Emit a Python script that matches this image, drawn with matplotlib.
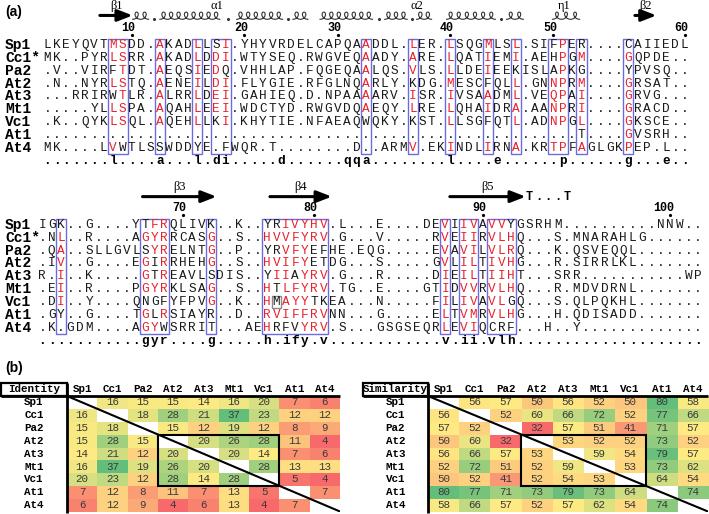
#!/usr/bin/env python3
"""
Sequence alignment (ESPript style) plus identity / similarity matrices
"""

import numpy as np
import matplotlib
matplotlib.use("Agg")
from matplotlib import pyplot as plt
from matplotlib.colors import LinearSegmentedColormap, TwoSlopeNorm
from matplotlib.patches import Rectangle

MONO = "Liberation Mono"
RED = "#e8222a"
BLUE = "#6b6be0"

# ---------------- panel (a) data ----------------
names = ["Sp1", "Cc1*", "Pa2", "At2", "At3", "Mt1", "Vc1", "At1", "At4"]

block1 = [
    "LKEYQVTMSDD.AKADLLSI.YHYVRDELCAPQAADDL.LER.LSQGMLSL.SIFPER....CAIIEDL",
    "MK..PYRLSRR.AKADLDDI.WTYSEQ.RWGVEQAADY.ARE.LQATIEMI.AEHPGM....GQPDE..",
    ".V..VIRFTDT.AEQSIEDQ.VHHLAP.FQGEQAALQS.VLS.LLDEIEEKISLAPKG....YPVSQ..",
    ".N..NYRLSTQ.AENEILDI.FLYGIE.RFGLNQARLY.KDG.MESCFQLL.GNNPRM....GRSAT..",
    "...RRIRWTLR.ALRRLDEI.GAHIEQ.D.NPAAAARV.ISR.IVSAADML.VEQPAI....GRVG...",
    ".....YLLSPA.AQAHLEEI.WDCTYD.RWGVDQAEQY.LRE.LQHAIDRA.AANPRI....GRACD..",
    ".K..QYKLSQL.AQEHLLKI.KHYTIE.NFAEAQWQKY.KST.LLSGFQTL.ADNPGL....GKSCE..",
    "." * 57 + "T....GVSRH..",
    "MK....LVWTLSSWDDYE.FWQR.T........D..ARMV.EKINDLIRNA.KRTPFAGLGKPEP.L..",
]
consensus1 = ".......l....a...l.di.....d......qqa........l....e......p......g...e.."

block2 = [
    "IGK..G....YTFRQLIVK..K..YRIVYHV.L...E....DEVIIVAVVYGSRHM..........NNW..",
    ".NL..R....AGYRRCASG..S..HVVFYRV.G...V.....RVEIIRVLHQ...S.MNARAHLG......",
    ".QA..SLLGVLSYRELNTG..P..YRVFYEFHE.EQG.....EVAVILVLRQ...K.QSVEQQL.......",
    ".IV..G....EGIRRHEHG..S..HVIFYETDG...S.....GVLILTIVHG...R.SIRRLKL.......",
    "R.I..K.....GTREAVLSDIS..YIIAYRV.G...R.....DIEILTIIHT...SRR...........WP",
    ".EI..R....PGYRKLSAG..S..HTLFYRV.TG..E....GTIDVVRVLHQ...R.MDVDRNL.......",
    ".DI..Y....QNGFYFPVG..K..HMAYYTKEA...N.....FILIVAVLGQ...S.QLPQKHL.......",
    ".GY..G....TGLRSIAYR..D..RVIFFRVNN...G.....ELTVMRVLHG...H.QDISADD.......",
    ".K.GDM....AGYWSRRIT...AEHRFVYRV.S...GSGSEQRLEVIQCRF...H..Y.............",
]
consensus2 = "...........gyr....g.....h.ify.v............v.ii.vlh...................."

# red (similar) residues, column indices per sequence
red1 = [
    [7, 8, 12, 16, 19, 34, 39, 43, 47, 50, 55],
    [7, 8, 12, 16, 18, 19, 34, 39, 43, 47, 50, 55, 57, 62],
    [8, 12, 16, 18, 34, 39, 43, 47, 55],
    [7, 8, 12, 16, 18, 19, 34, 43, 50, 54, 55, 57, 62],
    [8, 12, 16, 18, 19, 34, 39, 43, 47, 50, 54, 55, 57, 62],
    [7, 8, 12, 16, 18, 19, 34, 39, 43, 47, 50, 54, 55, 57, 62],
    [7, 8, 12, 16, 19, 43, 50, 54, 55, 57, 62],
    [62],
    [7, 39, 43, 47, 50, 54, 55, 57, 62],
]
red2 = [
    [12, 13, 26, 27, 28, 29, 30, 43, 45, 46, 48, 49],
    [2, 11, 12, 13, 18, 24, 25, 26, 27, 28, 29, 30, 43, 45, 46, 48, 49, 50],
    [2, 12, 13, 18, 26, 27, 28, 43, 45, 46, 48, 49, 50],
    [2, 11, 13, 18, 24, 25, 26, 27, 28, 43, 45, 46, 48, 49, 50],
    [2, 11, 13, 25, 26, 28, 29, 30, 43, 45, 46, 48, 49, 50],
    [2, 11, 12, 13, 18, 24, 26, 27, 28, 29, 30, 43, 45, 46, 48, 49, 50],
    [2, 18, 24, 26, 27, 28, 43, 45, 46, 48, 49],
    [11, 13, 24, 25, 26, 27, 28, 29, 30, 43, 45, 46, 48, 49, 50],
    [11, 12, 24, 28, 29, 30, 43, 45, 46],
]
boxes1 = [(7, 8), (12, 12), (16, 16), (18, 19), (34, 34), (39, 39), (43, 43),
          (47, 47), (50, 50), (54, 55), (57, 57), (62, 62)]
boxes2 = [(2, 2), (11, 13), (18, 18), (24, 30), (43, 43), (45, 46), (48, 50)]

# secondary structure (columns)
strands1 = [(5.6, 9.1, "β1"), (62.7, 65.0, "β2")]
helices1 = [(9.1, 10.8, 2), (12.0, 18.4, 8), (20.2, 25.1, 6), (26.2, 27.8, 2),
            (29.1, 34.7, 7), (36.0, 38.4, 3), (39.4, 41.0, 2), (42.6, 47.8, 6),
            (49.0, 50.8, 2), (53.9, 56.8, 3)]
helix_dots1 = [11.4, 19.3, 25.65, 35.35, 38.9, 48.4]
helix_labels1 = [(18.1, "α1"), (39.4, "α2"), (55.2, "η1")]
strands2 = [(10.7, 18.6, "β3"), (24.3, 30.9, "β4"), (43.5, 51.6, "β5")]
turns2 = "T...T"
turn_start2 = 52

# ---------------- panel (b) data ----------------
short = ["Sp1", "Cc1", "Pa2", "At2", "At3", "Mt1", "Vc1", "At1", "At4"]
identity = np.array([
    [0, 16, 15, 15, 14, 16, 20, 7, 6],
    [16, 0, 18, 28, 21, 37, 23, 12, 12],
    [15, 18, 0, 15, 12, 19, 12, 8, 9],
    [15, 28, 15, 0, 20, 26, 28, 11, 4],
    [14, 21, 12, 20, 0, 20, 14, 7, 6],
    [16, 37, 19, 26, 20, 0, 28, 13, 13],
    [20, 23, 12, 28, 14, 28, 0, 5, 4],
    [7, 12, 8, 11, 7, 13, 5, 0, 7],
    [6, 12, 9, 4, 6, 13, 4, 7, 0],
], dtype=float)
similarity = np.array([
    [0, 56, 57, 50, 56, 52, 50, 80, 58],
    [56, 0, 52, 60, 66, 72, 52, 77, 66],
    [57, 52, 0, 32, 57, 51, 41, 71, 57],
    [50, 60, 32, 0, 53, 52, 52, 73, 52],
    [56, 66, 57, 53, 0, 59, 54, 79, 57],
    [52, 72, 51, 52, 59, 0, 53, 73, 62],
    [50, 52, 41, 52, 54, 53, 0, 64, 54],
    [80, 77, 71, 73, 79, 73, 64, 0, 74],
    [58, 66, 57, 52, 57, 62, 54, 74, 0],
], dtype=float)

assert all(len(s) == 69 for s in block1 + [consensus1])
assert all(len(s) == 71 for s in block2 + [consensus2])

# ---------------- layout ----------------
FW, FH = 709, 514
X0, W = 47.4, 9.37      # pixel x of column 0, column width
Y0, H = 45.0, 12.85     # pixel y of first row, row height
ROW2, DX2 = 14, -0.55   # second alignment block offset

fig = plt.figure(figsize=(FW / 100, FH / 100), dpi=100)
ax = fig.add_axes([0, 0, 1, 1])
ax.set_xlim(-X0 / W, (FW - X0) / W)
ax.set_ylim((FH - Y0) / H, -Y0 / H)
ax.axis("off")


def coil(a, b, n, y):
    t = np.linspace(0, 2 * np.pi * n, 80 * n)
    x = a + (b - a) / n * t / (2 * np.pi) + 0.36 * np.sin(t)
    ax.plot(x, y - 0.28 * (1 - np.cos(t)), color="#333333", lw=0.8)


def arrow(a, b, y):
    ax.annotate("", xy=(b, y), xytext=(a, y),
                arrowprops=dict(arrowstyle="-|>,head_length=0.9,head_width=0.35",
                                lw=2.2, color="black", shrinkA=0, shrinkB=0,
                                mutation_scale=10))


def draw_block(seqs, cons, reds, boxes, r0, dx):
    for i, (nm, s) in enumerate(zip(names, seqs)):
        ax.text(-X0 / W + 5 / W, r0 + i, nm, ha="left", va="center",
                family=MONO, fontweight="bold", fontsize=10.5)
        for c, ch in enumerate(s):
            ax.text(c + dx, r0 + i, ch, ha="center", va="center", family=MONO,
                    fontsize=9.2, color=RED if c in reds[i] else "#1a1a1a")
    for c, ch in enumerate(cons):
        ax.text(c + dx, r0 + len(seqs), ch, ha="center", va="center",
                family=MONO, fontweight="bold", fontsize=9.2)
    for c0, c1 in boxes:
        ax.add_patch(Rectangle((c0 - 0.55 + dx, r0 - 0.48), c1 - c0 + 1.1,
                               len(seqs) - 0.04, fill=False, ec=BLUE, lw=1.0))


# residue numbering from Sp1 (reference)
ruler = []
count = 0
for b, s in enumerate([block1[0], block2[0]]):
    for c, ch in enumerate(s):
        if ch != ".":
            count += 1
            if count % 10 == 0:
                ruler.append((b, c, count))

draw_block(block1, consensus1, red1, boxes1, 0, 0.0)
draw_block(block2, consensus2, red2, boxes2, ROW2, DX2)

for b, c, n in ruler:
    r0, dx = (0, 0.0) if b == 0 else (ROW2, DX2)
    ax.text(c + dx + 0.4, r0 - 1.3, str(n), ha="right", va="center",
            family=MONO, fontweight="bold", fontsize=8.5)
    ax.plot(c + dx, r0 - 0.78, marker="o", ms=1.3, color="black")

# secondary structure, block 1
for a, b, lab in strands1:
    arrow(a, b, -2.3)
    ax.text((a + b) / 2, -3.0, lab, ha="center", va="center",
            family="Liberation Serif", fontsize=9)
for a, b, n in helices1:
    coil(a, b, n, -2.0)
for c in helix_dots1:
    ax.plot(c, -2.05, marker="o", ms=1.2, color="#333333")
for c, lab in helix_labels1:
    ax.text(c, -3.0, lab, ha="center", va="center",
            family="Liberation Serif", fontsize=9)

# secondary structure, block 2
for a, b, lab in strands2:
    arrow(a + DX2, b + DX2, ROW2 - 2.2)
    ax.text((a + b) / 2 + DX2, ROW2 - 2.95, lab, ha="center", va="center",
            family="Liberation Serif", fontsize=9)
for k, ch in enumerate(turns2):
    ax.text(turn_start2 + k + DX2, ROW2 - 2.15, ch, ha="center", va="center",
            family=MONO, fontweight="bold", fontsize=8.5)

# grey frame around Vc1 M
ax.add_patch(Rectangle((25 - 0.45 + DX2, ROW2 + 6 - 0.45), 0.9, 0.9,
                       fill=False, ec="#8a8a8a", lw=1.0))

fig.text(5 / FW, 1 - 12 / FH, "(a)", family="Liberation Sans",
         fontweight="bold", fontsize=10, va="center")
fig.text(5 / FW, 1 - 368 / FH, "(b)", family="Liberation Sans",
         fontweight="bold", fontsize=10, va="center")

# ---------------- panel (b): matrices ----------------
cmap = LinearSegmentedColormap.from_list("ryg", ["#F8696B", "#FFEB84", "#63BE7B"])
cmap.set_bad("white")


def matrix(mat, title, x_left, x_right, x_box):
    top, bottom = 396.0, 511.5
    hax = fig.add_axes([x_left / FW, 1 - bottom / FH, (x_right - x_left) / FW,
                        (bottom - top) / FH])
    m = mat.copy()
    np.fill_diagonal(m, np.nan)
    norm = TwoSlopeNorm(vmin=np.nanmin(m), vcenter=np.nanmedian(m),
                        vmax=np.nanmax(m))
    hax.imshow(m, cmap=cmap, norm=norm, aspect="auto", interpolation="nearest")
    n = len(short)
    for i in range(n):
        for j in range(n):
            if i != j:
                hax.text(j, i, f"{int(mat[i, j])}", ha="center", va="center",
                         family=MONO, fontsize=7.8, color="#3a3a3a")
    cw = (x_right - x_left) / n
    rh = (bottom - top) / n
    box_x = -0.5 + (x_box - x_left) / cw
    for j, nm in enumerate(short):
        hax.text(j, -1.02, nm, ha="center", va="center", family=MONO,
                 fontweight="bold", fontsize=7.8, clip_on=False)
        hax.text((box_x - 0.5) / 2, j, nm, ha="center", va="center",
                 family=MONO, fontweight="bold", fontsize=7.8, clip_on=False)
    head_top = -0.5 - 13.5 / rh
    hax.add_patch(Rectangle((box_x, head_top), -0.5 - box_x, -0.5 - head_top,
                            fill=False, ec="black", lw=1.6, clip_on=False))
    hax.text((box_x - 0.5) / 2, -1.02, title, ha="center", va="center",
             family=MONO, fontweight="bold", fontsize=7.8, clip_on=False)
    hax.plot([box_x, n - 0.5], [-0.5, -0.5], color="black", lw=2.0,
             clip_on=False, solid_capstyle="butt")
    hax.plot([-0.5, -0.5], [head_top, n - 0.5 + 0.1], color="black", lw=2.0,
             clip_on=False, solid_capstyle="butt")
    hax.plot([-0.5, n - 0.5], [-0.5, n - 0.5], color="black", lw=1.5)
    hax.add_patch(Rectangle((2.5, 2.5), 4, 4, fill=False, ec="black", lw=1.5))
    hax.set_xlim(-0.5, n - 0.5)
    hax.set_ylim(n - 0.5, -0.5)
    hax.axis("off")


matrix(identity, "Identity", 67, 340, 1)
matrix(similarity, "Similarity", 428, 708, 363)

fig.savefig("out.png", dpi=100)
